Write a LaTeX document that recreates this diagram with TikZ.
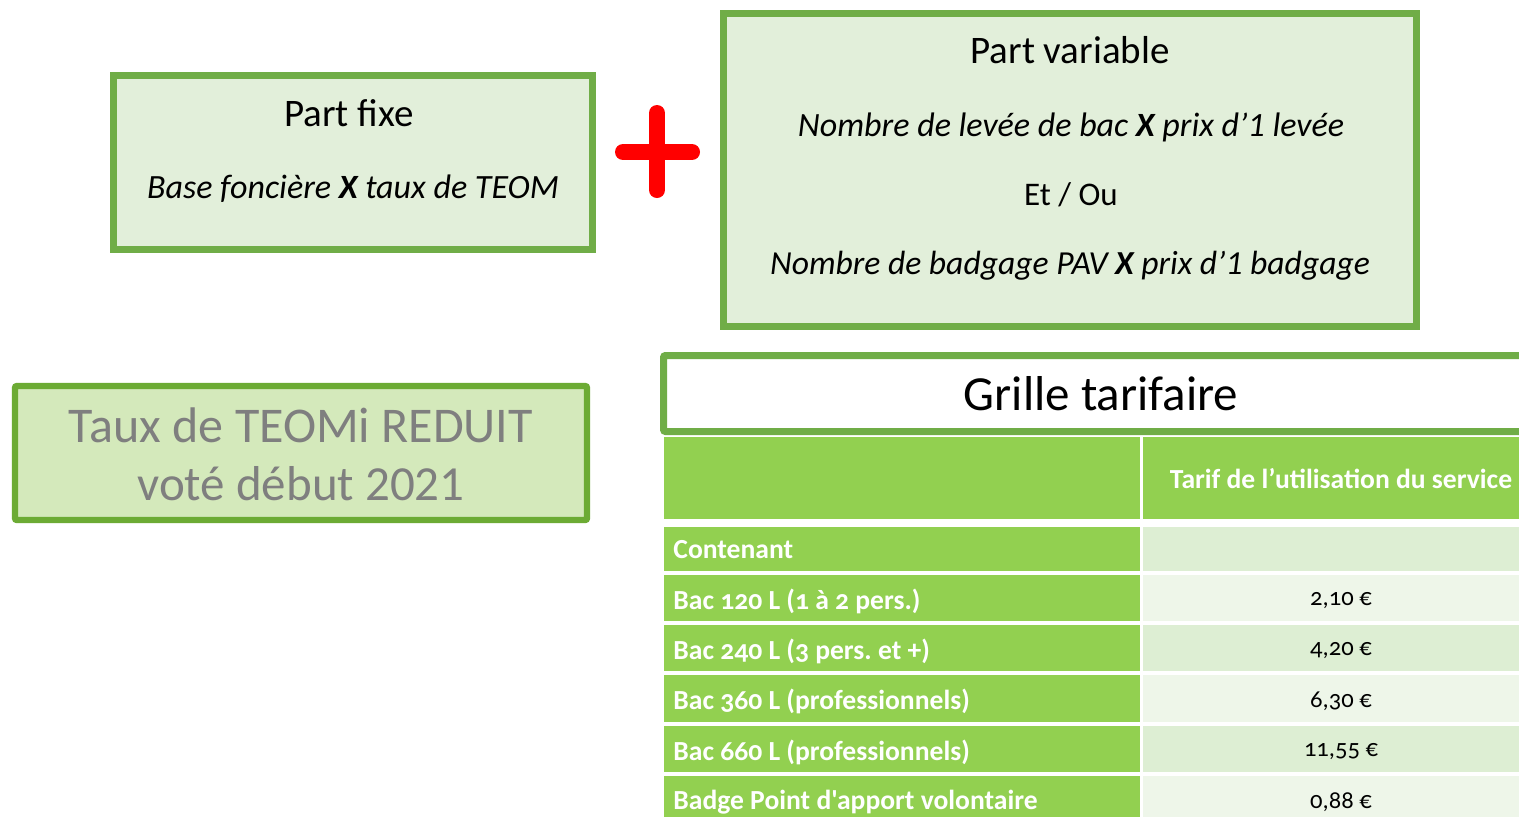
\documentclass[tikz,border=0pt]{standalone}
\usepackage{fontspec}
\setmainfont{Carlito}
\newfontfamily\tabfont[Numbers=OldStyle]{Carlito}
\frenchspacing
\definecolor{boxgreen}{HTML}{70AD47}
\definecolor{boxfill}{HTML}{E2EFDA}
\definecolor{tauxfill}{HTML}{D4E9BB}
\definecolor{tauxborder}{HTML}{6CAB34}
\definecolor{tauxtext}{HTML}{7F7F7F}
\definecolor{tabgreen}{HTML}{92D050}
\definecolor{rowdark}{HTML}{DDEED3}
\definecolor{rowlight}{HTML}{EEF6E9}
\definecolor{plusred}{HTML}{FF0000}
\tikzset{
  greenbox/.style={draw=boxgreen, fill=boxfill, line width=3.5pt},
  tauxbox/.style={draw=tauxborder, fill=tauxfill, line width=3.2pt, rounded corners=1pt},
  titlebox/.style={draw=boxgreen, fill=white, line width=3.5pt, rounded corners=1pt},
  plusbar/.style={draw=plusred, line width=8pt, line cap=round},
  titletext/.style={font=\fontsize{19.5}{23}\selectfont, inner sep=0pt},
  formula/.style={font=\fontsize{17}{20}\selectfont\itshape, inner sep=0pt},
  tauxtxt/.style={font=\fontsize{25}{30}\selectfont, text=tauxtext, inner sep=0pt},
  rowlabel/.style={font=\tabfont\bfseries\fontsize{13.8}{16}\selectfont, text=white, anchor=west, inner sep=0pt},
  rowvalue/.style={font=\tabfont\fontsize{12.3}{15}\selectfont, text=black, inner sep=0pt},
}
\begin{document}
\begin{tikzpicture}[x=0.5pt,y=-0.5pt]
\clip (0,0) rectangle (1519,816);
\fill[white] (0,0) rectangle (1519,816);

% Part fixe
\draw[greenbox] (113.5,75.5) rectangle (592.5,249.5);
\node[titletext] (pf) at (349,113) {Part fixe};
\node[formula] (pfx) at (353,189) {Base foncière \textbf{X} taux de TEOM};

% plus
\draw[plusbar] (623,152) -- (692,152);
\draw[plusbar] (657,113) -- (657,190);

% Part variable
\draw[greenbox] (723.5,13.5) rectangle (1416.5,326.5);
\node[titletext] (pv) at (1070,50) {Part variable};
\node[formula] (pv1) at (1071,127) {Nombre de levée de bac \textbf{X} prix d’1 levée};
\node[titletext, font=\fontsize{16.5}{20}\selectfont] (pv2) at (1071,195) {Et / Ou};
\node[formula, font=\fontsize{16.8}{20}\selectfont\itshape] (pv3) at (1070,266) {Nombre de badgage PAV \textbf{X} prix d’1 badgage};

% Taux
\draw[tauxbox] (15,386) rectangle (587,520);
\node[tauxtxt] (t1) at (301,425) {Taux de TEOMi REDUIT};
\node[tauxtxt, font=\fontsize{24.5}{30}\selectfont] (t2) at (301,484) {voté début 2021};

% Grille tarifaire
\draw[titlebox] (663.5,355.5) rectangle (1545,431.5);
\node[font=\fontsize{24.5}{30}\selectfont, inner sep=0pt] (gt) at (1101,394) {Grille tarifaire};

% table header
\fill[tabgreen] (664,437) rectangle (1140,519);
\fill[tabgreen] (1143,437) rectangle (1540,519);
\node[font=\tabfont\bfseries\fontsize{13.8}{16}\selectfont, text=white, inner sep=0pt] (hd) at (1341,479) {Tarif de l’utilisation du service};

% rows
\fill[tabgreen] (664,527) rectangle (1140,571);
\fill[rowdark]  (1143,527) rectangle (1540,571);
\fill[tabgreen] (664,575) rectangle (1140,621);
\fill[rowlight] (1143,575) rectangle (1540,621);
\fill[tabgreen] (664,625) rectangle (1140,671);
\fill[rowdark]  (1143,625) rectangle (1540,671);
\fill[tabgreen] (664,675) rectangle (1140,722);
\fill[rowlight] (1143,675) rectangle (1540,722);
\fill[tabgreen] (664,726) rectangle (1140,772);
\fill[rowdark]  (1143,726) rectangle (1540,772);
\fill[tabgreen] (664,776) rectangle (1140,830);
\fill[rowlight] (1143,776) rectangle (1540,830);

\node[rowlabel] (r0) at (673,550) {Contenant};
\node[rowlabel] (r1) at (673,601) {Bac 120 L (1 à 2 pers.)};
\node[rowlabel] (r2) at (673,651) {Bac 240 L (3 pers. et +)};
\node[rowlabel] (r3) at (673,701) {Bac 360 L (professionnels)};
\node[rowlabel] (r4) at (673,752) {Bac 660 L (professionnels)};
\node[rowlabel] (r5) at (673,802) {Badge Point d'apport volontaire};

\node[rowvalue] (v1) at (1341,601) {2,10 €};
\node[rowvalue] (v2) at (1341,651) {4,20 €};
\node[rowvalue] (v3) at (1341,701) {6,30 €};
\node[rowvalue] (v4) at (1341,752) {11,55 €};
\node[rowvalue] (v5) at (1341,802) {0,88 €};
\end{tikzpicture}
\end{document}
